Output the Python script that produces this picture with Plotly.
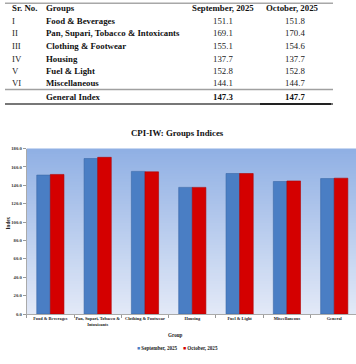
import plotly.graph_objects as go

# ---------------- data ----------------
sr_no = ["I", "II", "III", "IV", "V", "VI"]
groups = ["Food & Beverages", "Pan, Supari, Tobacco & Intoxicants", "Clothing & Footwear",
          "Housing", "Fuel & Light", "Miscellaneous"]
sep_values = [151.1, 169.1, 155.1, 137.7, 152.8, 144.1]
oct_values = [151.8, 170.4, 154.6, 137.7, 152.8, 144.7]
general_label = "General Index"
general_sep = 147.3
general_oct = 147.7
series_names = ["September, 2025", "October, 2025"]
table_headers = ["Sr. No.", "Groups", "September, 2025", "October, 2025"]
chart_categories = groups + ["General"]
chart_tick_text = ["Food & Beverages", "Pan, Supari, Tobacco &<br>Intoxicants", "Clothing & Footwear",
                   "Housing", "Fuel & Light", "Miscellaneous", "General"]
y_ticks = [0, 20, 40, 60, 80, 100, 120, 140, 160, 180]

W, H = 356, 364
SERIF = "Liberation Serif, Times New Roman, serif"
BLUE = "#4a7ec4"
RED = "#d40000"


def px(x):
    return x / W


def py(y):
    return 1 - y / H


fig = go.Figure()
fig.add_trace(go.Bar(x=chart_categories, y=sep_values + [general_sep], name=series_names[0],
                     marker=dict(color=BLUE, line=dict(color="#3b68a8", width=0.6))))
fig.add_trace(go.Bar(x=chart_categories, y=oct_values + [general_oct], name=series_names[1],
                     marker=dict(color=RED, line=dict(color="#b00000", width=0.6))))

annotations = []
shapes = []

# ---------------- table ----------------
hdr_y = 8.3
row_ys = [20.7, 33.3, 46.0, 59.0, 70.7, 83.3]
gen_y = 97.0
col_sr, col_grp, col_sep, col_oct = 9.5, 43.5, 223, 292
fs_t = 8.8

for txt, x, anc in zip(table_headers, [col_sr, col_grp, col_sep, col_oct], ["left", "left", "center", "center"]):
    annotations.append(dict(x=px(x), y=py(hdr_y), xref="paper", yref="paper", text="<b>%s</b>" % txt,
                            showarrow=False, xanchor=anc, yanchor="middle",
                            font=dict(family=SERIF, size=fs_t, color="#111")))
for i, ry in enumerate(row_ys):
    annotations.append(dict(x=px(col_sr), y=py(ry), xref="paper", yref="paper", text=sr_no[i],
                            showarrow=False, xanchor="left", yanchor="middle",
                            font=dict(family=SERIF, size=fs_t, color="#222")))
    annotations.append(dict(x=px(col_grp), y=py(ry), xref="paper", yref="paper", text="<b>%s</b>" % groups[i],
                            showarrow=False, xanchor="left", yanchor="middle",
                            font=dict(family=SERIF, size=fs_t, color="#111")))
    annotations.append(dict(x=px(col_sep), y=py(ry), xref="paper", yref="paper", text="%.1f" % sep_values[i],
                            showarrow=False, xanchor="center", yanchor="middle",
                            font=dict(family=SERIF, size=fs_t, color="#222")))
    annotations.append(dict(x=px(col_oct + 3), y=py(ry), xref="paper", yref="paper", text="%.1f" % oct_values[i],
                            showarrow=False, xanchor="center", yanchor="middle",
                            font=dict(family=SERIF, size=fs_t, color="#222")))
annotations.append(dict(x=px(col_grp), y=py(gen_y), xref="paper", yref="paper", text="<b>%s</b>" % general_label,
                        showarrow=False, xanchor="left", yanchor="middle",
                        font=dict(family=SERIF, size=fs_t, color="#111")))
annotations.append(dict(x=px(col_sep), y=py(gen_y), xref="paper", yref="paper", text="<b>%.1f</b>" % general_sep,
                        showarrow=False, xanchor="center", yanchor="middle",
                        font=dict(family=SERIF, size=fs_t, color="#111")))
annotations.append(dict(x=px(col_oct + 3), y=py(gen_y), xref="paper", yref="paper", text="<b>%.1f</b>" % general_oct,
                        showarrow=False, xanchor="center", yanchor="middle",
                        font=dict(family=SERIF, size=fs_t, color="#111")))

for y0, col, w in [(3.3, "#a8a8a8", 1.5), (89.5, "#a0a0a0", 1.5), (104.0, "#777", 2.2)]:
    shapes.append(dict(type="line", xref="paper", yref="paper", x0=px(5), x1=px(333), y0=py(y0), y1=py(y0),
                       line=dict(color=col, width=w)))
shapes.append(dict(type="line", xref="paper", yref="paper", x0=px(260), x1=px(331), y0=py(104), y1=py(104),
                   line=dict(color="#222", width=2)))

# ---------------- chart decorations ----------------
annotations.append(dict(x=px(177.5), y=py(132.5), xref="paper", yref="paper", text="<b>CPI-IW: Groups Indices</b>",
                        showarrow=False, xanchor="center", yanchor="middle",
                        font=dict(family=SERIF, size=8.8, color="#111")))
annotations.append(dict(x=px(7.5), y=py(223), xref="paper", yref="paper", text="<b>Index</b>", textangle=-90,
                        showarrow=False, xanchor="center", yanchor="middle",
                        font=dict(family=SERIF, size=5.2, color="#222")))
annotations.append(dict(x=px(175), y=py(335), xref="paper", yref="paper", text="<b>Group</b>",
                        showarrow=False, xanchor="center", yanchor="middle",
                        font=dict(family=SERIF, size=5.1, color="#222")))
annotations.append(dict(x=px(135), y=py(347.5), xref="paper", yref="paper",
                        text="<span style='color:%s'>■</span> <b>%s</b>" % (BLUE, series_names[0]),
                        showarrow=False, xanchor="left", yanchor="middle",
                        font=dict(family=SERIF, size=5.1, color="#222")))
annotations.append(dict(x=px(181), y=py(347.5), xref="paper", yref="paper",
                        text="<span style='color:%s'>■</span> <b>%s</b>" % (RED, series_names[1]),
                        showarrow=False, xanchor="left", yanchor="middle",
                        font=dict(family=SERIF, size=5.1, color="#222")))

# gradient background for plot area (overlapping stripes to avoid seams)
top_c = (0x90, 0xb0, 0xe4)
bot_c = (0xe2, 0xe9, 0xf7)
N = 60
for i in range(N):
    t = i / (N - 1)
    c = tuple(int(round(top_c[k] + (bot_c[k] - top_c[k]) * t)) for k in range(3))
    shapes.append(dict(type="rect", xref="x domain", yref="y domain", x0=0, x1=1,
                       y0=max(0, 1 - (i + 1.6) / N), y1=1 - i / N, layer="below",
                       fillcolor="rgb(%d,%d,%d)" % c, line=dict(width=0)))

fig.update_layout(
    width=W, height=H,
    margin=dict(l=0, r=0, t=0, b=0, autoexpand=False),
    paper_bgcolor="white", plot_bgcolor="rgba(0,0,0,0)",
    showlegend=False,
    barmode="group", bargap=0.425, bargroupgap=0,
    annotations=annotations, shapes=shapes,
    xaxis=dict(domain=[px(26.7), 1], range=[-0.5, 6.46], type="category",
               tickmode="array", tickvals=chart_categories, ticktext=["<b>%s</b>" % t for t in chart_tick_text],
               tickangle=0, tickson="boundaries", ticks="outside", ticklen=3, tickcolor="#999",
               showline=True, linecolor="#aaa", linewidth=1, showgrid=False,
               tickfont=dict(family=SERIF, size=4.4, color="#222")),
    yaxis=dict(domain=[py(314), py(148.5)], range=[0, 180], tickmode="array", tickvals=y_ticks,
               ticktext=["<b>%.1f</b>" % v for v in y_ticks],
               ticks="outside", ticklen=3, tickcolor="#999", showline=True, linecolor="#aaa", linewidth=1,
               showgrid=False, zeroline=False,
               tickfont=dict(family=SERIF, size=4.7, color="#333")),
)

fig.write_html("out.html", config={"displayModeBar": False},
               post_script="document.body.style.margin='0';document.body.style.padding='0';")
